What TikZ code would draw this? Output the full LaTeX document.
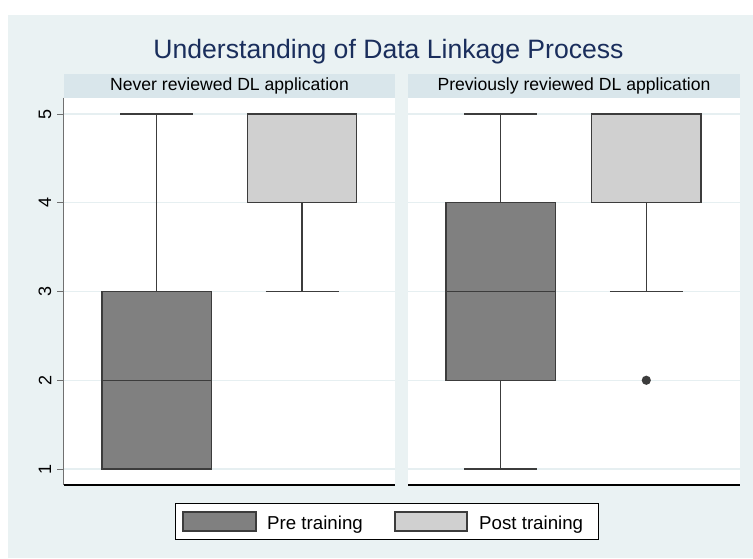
\documentclass[tikz,border=0pt]{standalone}
\usepackage{fontspec}
\setmainfont{Liberation Sans}
\usetikzlibrary{positioning}
\definecolor{bgblue}{HTML}{EAF2F3}
\definecolor{stripblue}{HTML}{D9E6EB}
\definecolor{titlenavy}{HTML}{1A2E5C}
\definecolor{gridblue}{HTML}{E6EFF1}
\definecolor{pregray}{HTML}{808080}
\definecolor{postgray}{HTML}{D0D0D0}
\definecolor{edgegray}{HTML}{3C3C3C}
\definecolor{axisgray}{HTML}{707070}

\begin{document}
\begin{tikzpicture}[x=1pt, y=-1pt,
  strip/.style={fill=stripblue},
  gridln/.style={draw=gridblue, line width=1.2pt},
  prebox/.style={draw=edgegray, fill=pregray, line width=1.2pt},
  postbox/.style={draw=edgegray, fill=postgray, line width=1.2pt},
  whisk/.style={draw=edgegray, line width=1.2pt},
  ticklbl/.style={font=\fontsize{18}{18}\selectfont, rotate=90, inner sep=0pt},
  hdr/.style={font=\fontsize{17.6}{17.6}\selectfont, anchor=base, inner sep=0pt},
  keytxt/.style={font=\fontsize{18.7}{18.7}\selectfont, anchor=base west, inner sep=0pt}
]
  \useasboundingbox (0,0) rectangle (753,558);
  \fill[white] (0,0) rectangle (753,558);
  \fill[bgblue] (8,15) rectangle (753,558);

  % Title
  \node[font=\fontsize{26.6}{26.6}\selectfont, text=titlenavy, anchor=base,
    inner sep=0pt] (title) at (388.5,58)
    {Understanding of Data Linkage Process};

  % Panel strips
  \fill[strip] (64,74) rectangle (395,97.7);
  \fill[strip] (408,74) rectangle (740,97.7);
  \node[hdr] (hdrA) at (229.5,90.7) {Never reviewed DL application};
  \node[hdr] (hdrB) at (574,90.7) {Previously reviewed DL application};

  % Plot regions
  \fill[white] (64,97.7) rectangle (395,485);
  \fill[white] (408,97.7) rectangle (740,485);
  \foreach \v/\yy in {1/469, 2/380.25, 3/291.5, 4/202.75, 5/114} {
    \draw[gridln] (64,\yy) -- (395,\yy);
    \draw[gridln] (408,\yy) -- (740,\yy);
    \draw[axisgray, line width=1pt] (57,\yy) -- (63.5,\yy);
    \node[ticklbl] (lbl\v) at (45,\yy) {\v};
  }

  % Axes
  \draw[axisgray, line width=1.2pt] (63.5,97.7) -- (63.5,485);
  \draw[black, line width=1.2pt] (63.5,485) -- (395,485);
  \draw[black, line width=1.2pt] (408,485) -- (740,485);

  % Never reviewed: pre training
  \draw[whisk] (156.85,114) -- (156.85,291.5);
  \draw[whisk] (120.3,114) -- (193.4,114);
  \draw[prebox] (102,291.5) rectangle (211.7,469);
  \draw[whisk] (102,380.25) -- (211.7,380.25);

  % Never reviewed: post training
  \draw[whisk] (302,202.75) -- (302,291.5);
  \draw[whisk] (265.5,291.5) -- (338.5,291.5);
  \draw[postbox] (247.3,114) rectangle (356.7,202.75);

  % Previously reviewed: pre training
  \draw[whisk] (500.7,114) -- (500.7,202.75);
  \draw[whisk] (500.7,380.25) -- (500.7,469);
  \draw[whisk] (464.3,114) -- (537.3,114);
  \draw[whisk] (464.3,469) -- (537.3,469);
  \draw[prebox] (446,202.75) rectangle (555.4,380.25);
  \draw[whisk] (446,291.5) -- (555.4,291.5);

  % Previously reviewed: post training
  \draw[whisk] (646.3,202.75) -- (646.3,291.5);
  \draw[whisk] (609.8,291.5) -- (682.8,291.5);
  \draw[postbox] (591.7,114) rectangle (701,202.75);
  \fill[edgegray] (646.3,380.25) circle (4.6);

  % Legend
  \draw[black, fill=white, line width=1pt] (175,503) rectangle (598,539);
  \draw[prebox] (183,512) rectangle (256,531);
  \draw[postbox] (395,512) rectangle (467,531);
  \node[keytxt] (keyPre) at (267,529.3) {Pre training};
  \node[keytxt] (keyPost) at (479,529.3) {Post training};
\end{tikzpicture}
\end{document}
